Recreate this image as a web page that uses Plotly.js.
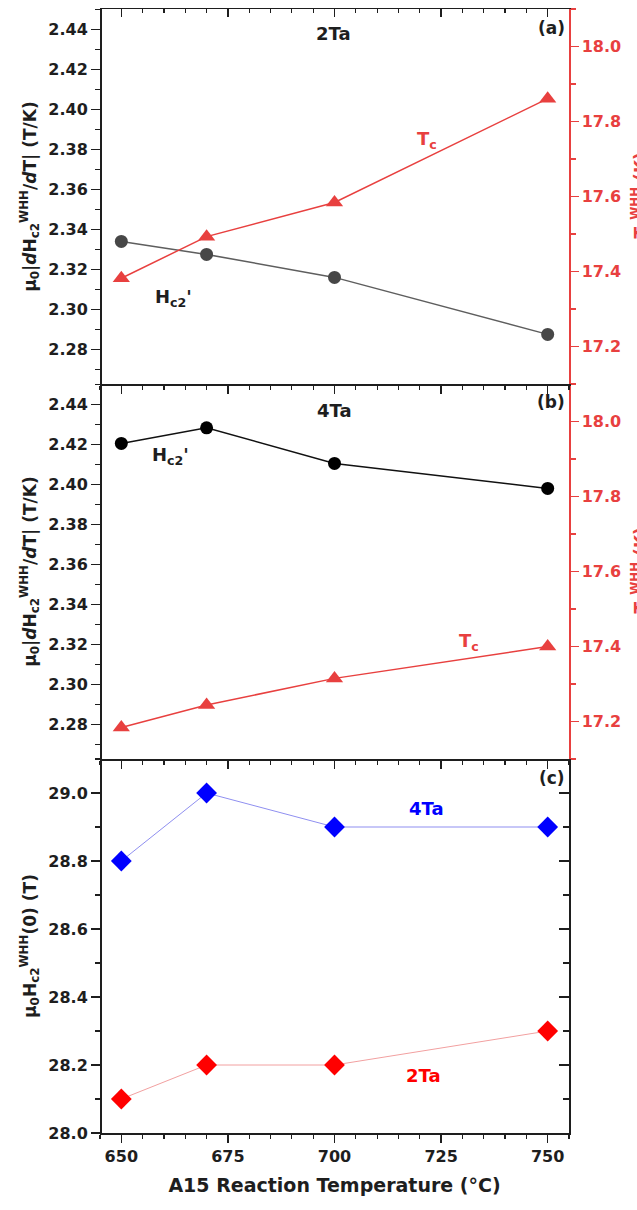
<!DOCTYPE html>
<html><head><meta charset="utf-8">
<script src="https://cdn.plot.ly/plotly-3.0.1.min.js"></script>
<style>html,body{margin:0;padding:0;background:#fff;} #chart{width:637px;height:1210px;}</style>
</head><body><div id="chart"></div>
<script>
// Data
const temps = [650, 670, 700, 750];
const hc2Slope2Ta = [2.334, 2.3275, 2.316, 2.2875];
const tc2Ta = [17.382, 17.493, 17.584, 17.861];
const hc2Slope4Ta = [2.4205, 2.4283, 2.4105, 2.398];
const tc4Ta = [17.184, 17.244, 17.315, 17.400];
const hc20_4Ta = [28.8, 29.0, 28.9, 28.9];
const hc20_2Ta = [28.1, 28.2, 28.2, 28.3];

const RED = '#e8403f';
const INK = '#1e1e1e';
const FAM = 'DejaVu Sans';
const tickFont = (c) => ({family: FAM, size: 16, weight: 'bold', color: c});

// plot area pixel frame: x 100..569, y 9..1133
const px = (x) => (x - 100) / 469;
const py = (y) => (1133 - y) / 1124;

function xAx(anchor, labels) {
  return {
    domain: [0, 1], range: [645, 755], anchor: anchor,
    tickmode: 'linear', tick0: 650, dtick: 25,
    ticks: 'outside', ticklen: 8, tickwidth: 1.5, tickcolor: INK,
    minor: {tickmode: 'linear', tick0: 650, dtick: 5, ticks: 'outside', ticklen: 4, tickwidth: 1.2, tickcolor: INK},
    showline: true, linecolor: INK, linewidth: 1.5,
    showgrid: false, zeroline: false, showticklabels: labels,
    tickfont: tickFont(INK)
  };
}
function yLeft(domain, range, dtick, fmt, title) {
  return {
    domain: domain, range: range, anchor: 'free', position: 0,
    tickmode: 'linear', tick0: 0, dtick: dtick, tickformat: fmt,
    ticks: 'outside', ticklen: 9, tickwidth: 1.5, tickcolor: INK,
    minor: {tickmode: 'linear', tick0: 0, dtick: dtick / 2, ticks: 'outside', ticklen: 5, tickwidth: 1.2, tickcolor: INK},
    showline: true, linecolor: INK, linewidth: 1.5,
    showgrid: false, zeroline: false,
    tickfont: tickFont(INK),
    title: {text: title, font: {family: FAM, size: 17, weight: 'bold', color: INK}, standoff: 6}
  };
}
function yRightRed(overlay, anchor, domain) {
  return {
    overlaying: overlay, side: 'right', anchor: anchor, domain: domain,
    range: [17.1, 18.1], tickmode: 'linear', tick0: 0, dtick: 0.2, tickformat: '.1f',
    ticks: 'outside', ticklen: 8, tickwidth: 1.5, tickcolor: RED,
    minor: {tickmode: 'linear', tick0: 0, dtick: 0.1, ticks: 'outside', ticklen: 5, tickwidth: 1.2, tickcolor: RED},
    showline: true, linecolor: RED, linewidth: 1.5,
    showgrid: false, zeroline: false,
    tickfont: tickFont(RED)
  };
}

const dC = [0, py(759)];
const dB = [py(759), py(384)];
const dA = [py(384), 1];

const slopeTitle = 'μ<sub>0</sub>|<i>d</i>H<sub>c2</sub><sup>WHH</sup>/<i>d</i>T| (T/K)';

const traces = [
  {x: temps, y: hc2Slope2Ta, xaxis: 'x3', yaxis: 'y3', mode: 'lines+markers', name: "Hc2' 2Ta",
   line: {color: '#5e5e5e', width: 1.5}, marker: {symbol: 'circle', size: 13, color: '#474747'}},
  {x: temps, y: tc2Ta, xaxis: 'x3', yaxis: 'y5', mode: 'lines+markers', name: 'Tc 2Ta',
   line: {color: RED, width: 1.5}, marker: {symbol: 'triangle-up', size: 15, color: RED}},
  {x: temps, y: hc2Slope4Ta, xaxis: 'x2', yaxis: 'y2', mode: 'lines+markers', name: "Hc2' 4Ta",
   line: {color: '#111', width: 1.5}, marker: {symbol: 'circle', size: 13, color: '#000'}},
  {x: temps, y: tc4Ta, xaxis: 'x2', yaxis: 'y4', mode: 'lines+markers', name: 'Tc 4Ta',
   line: {color: RED, width: 1.5}, marker: {symbol: 'triangle-up', size: 15, color: RED}},
  {x: temps, y: hc20_4Ta, xaxis: 'x', yaxis: 'y', mode: 'lines+markers', name: '4Ta',
   line: {color: '#8f8ff0', width: 1}, marker: {symbol: 'diamond', size: 16, color: '#0000ff'}},
  {x: temps, y: hc20_2Ta, xaxis: 'x', yaxis: 'y', mode: 'lines+markers', name: '2Ta',
   line: {color: '#f2a0a0', width: 1}, marker: {symbol: 'diamond', size: 16, color: '#ff0000'}},
  {x: [], y: [], xaxis: 'x4', yaxis: 'y3', mode: 'markers', showlegend: false, hoverinfo: 'skip'},
  {x: [], y: [], xaxis: 'x', yaxis: 'y7', mode: 'markers', showlegend: false, hoverinfo: 'skip'}
];

function ann(text, x, y, color, xanchor, size) {
  return {text: text, x: x, y: y, xref: 'paper', yref: 'paper', showarrow: false,
          xanchor: xanchor || 'center', yanchor: 'middle',
          font: {family: FAM, size: size || 18, weight: 'bold', color: color || INK}};
}
const annotations = [
  ann('2Ta', px(333), py(34)),
  ann('(a)', px(567), py(28), INK, 'right', 17),
  ann('T<sub>c</sub>', px(415), py(140), RED, 'left'),
  ann("H<sub>c2</sub>'", px(153), py(298), INK, 'left'),
  ann('4Ta', px(334), py(410)),
  ann('(b)', px(567), py(402), INK, 'right', 17),
  ann("H<sub>c2</sub>'", px(150), py(456), INK, 'left'),
  ann('T<sub>c</sub>', px(457), py(642), RED, 'left'),
  ann('(c)', px(567), py(778), INK, 'right', 17),
  ann('4Ta', px(426), py(809), '#0000ff'),
  ann('2Ta', px(423), py(1075), '#ff0000'),
  Object.assign(ann('T<sub>c</sub><sup>WHH</sup> (K)', px(626), py(196), RED, 'left', 17), {textangle: -90}),
  Object.assign(ann('T<sub>c</sub><sup>WHH</sup> (K)', px(626), py(571), RED, 'left', 17), {textangle: -90})
];

const xC = xAx('y', true);
xC.title = {text: 'A15 Reaction Temperature (°C)', font: {family: FAM, size: 19, weight: 'bold', color: INK}, standoff: 14};
const xTop = xAx('y3', false);
xTop.overlaying = 'x3'; xTop.side = 'top'; xTop.ticks = 'inside'; xTop.minor.ticks = 'inside';

const yC = yLeft(dC, [28.0, 29.1], 0.2, '.1f', 'μ<sub>0</sub>H<sub>c2</sub><sup>WHH</sup>(0) (T)');
const yCR = {overlaying: 'y', side: 'right', anchor: 'x', domain: dC, range: [28.0, 29.1],
  tickmode: 'linear', tick0: 0, dtick: 0.2, ticks: 'inside', ticklen: 10, tickwidth: 1.5, tickcolor: INK,
  minor: {tickmode: 'linear', tick0: 0, dtick: 0.1, ticks: 'inside', ticklen: 6, tickwidth: 1.2, tickcolor: INK},
  showline: true, linecolor: INK, linewidth: 1.5, showgrid: false, zeroline: false, showticklabels: false};

const layout = {
  width: 637, height: 1210,
  margin: {l: 100, r: 68, t: 9, b: 77, pad: 0},
  paper_bgcolor: '#fff', plot_bgcolor: '#fff',
  showlegend: false,
  font: {family: FAM, color: INK},
  xaxis: xC,
  xaxis2: xAx('y2', false),
  xaxis3: xAx('y3', false),
  xaxis4: xTop,
  yaxis: yC,
  yaxis2: yLeft(dB, [2.2627, 2.4502], 0.02, '.2f', slopeTitle),
  yaxis3: yLeft(dA, [2.2627, 2.4502], 0.02, '.2f', slopeTitle),
  yaxis4: yRightRed('y2', 'x2', dB),
  yaxis5: yRightRed('y3', 'x3', dA),
  yaxis7: yCR,
  annotations: annotations
};

Plotly.newPlot('chart', traces, layout, {displayModeBar: false, staticPlot: true});
</script>
</body></html>
